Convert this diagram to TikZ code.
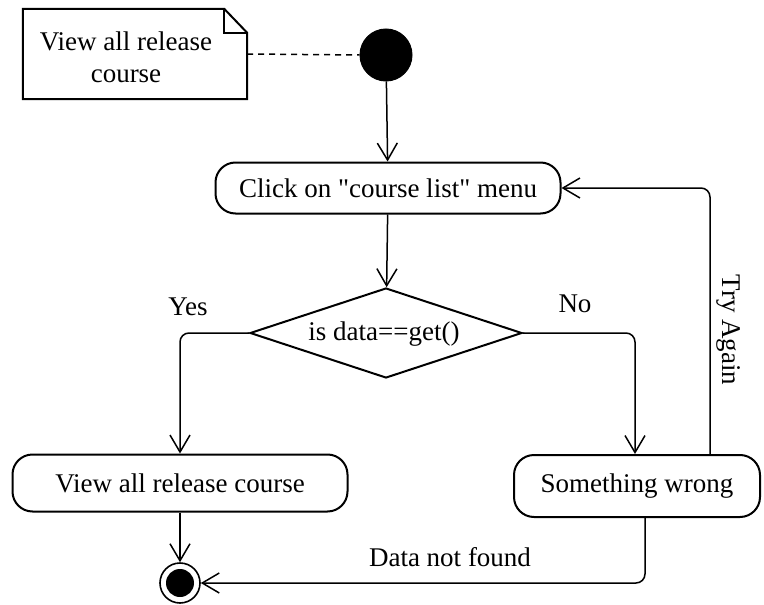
\documentclass[tikz,border=0pt]{standalone}
\usepackage{fontspec}
\newfontfamily\diagfont{Liberation Serif}
\usetikzlibrary{arrows.meta,shapes.geometric}
\begin{document}
\begin{tikzpicture}[x=1pt,y=-1pt,
  every node/.style={font=\diagfont\fontsize{27}{32}\selectfont},
  act/.style={draw,line width=2pt,rounded corners=20pt,inner sep=0pt},
  conn/.style={line width=1.5pt,rounded corners=9pt,-{Straight Barb[length=17pt,width=20pt,line width=1.5pt]}},
  lbl/.style={inner sep=0pt}]
\useasboundingbox (0,0) rectangle (764,605);
% note
\node (note) [minimum width=224pt,minimum height=90pt,inner sep=0pt] at (135,54) {};
\draw[line width=2pt] (note.north west) -- ([xshift=-23pt]note.north east) -- ([yshift=-24pt]note.north east) -- (note.south east) -- (note.south west) -- cycle;
\draw[line width=1.6pt] ([xshift=-23pt]note.north east) -- ([xshift=-23pt,yshift=-24pt]note.north east) -- ([yshift=-24pt]note.north east);
\node[lbl,align=center] (notetxt) at (126,57) {View all release\\course};
% start
\node (start) [circle,fill=black,draw,line width=1pt,minimum size=52pt,inner sep=0pt] at (386,55) {};
% activities
\node (click) [act,minimum width=345pt,minimum height=51pt] at (388,188) {Click on "course list" menu};
\node (dec) [diamond,draw,line width=2pt,aspect=3,minimum width=272pt,minimum height=90pt,inner sep=0pt] at (386,333) {};
\node[lbl] (dectxt) at (384,334) {is data==get()};
\node (view) [act,minimum width=335pt,minimum height=57pt] at (180,483) {View all release course};
\node (wrong) [act,minimum width=246pt,minimum height=62pt] at (637,486) {Something wrong};
% end
\node (end) [circle,draw,line width=1.6pt,minimum size=40pt,inner sep=0pt] at (180,583) {};
\node (endin) [circle,fill=black,minimum size=28pt,inner sep=0pt] at (180,583) {};
% labels
\node[lbl] (yes) at (188,307) {Yes};
\node[lbl] (no) at (575,304) {No};
\node[lbl,rotate=-90] (try) at (729,330) {Try Again};
\node[lbl] (dnf) at (450,557) {Data not found};
% connectors
\draw[line width=1.5pt,dash pattern=on 6pt off 5pt] (note.east) -- (start.west);
\draw[conn] (start) -- (click);
\draw[conn] (click) -- (dec);
\draw[conn] (dec.west) -| (view.north);
\draw[conn] (dec.east) -| ([xshift=-2pt]wrong.north);
\draw[conn] ([xshift=73pt]wrong.north) |- (click.east);
\draw[conn] (view) -- (end);
\draw[conn] ([xshift=8pt]wrong.south) |- (end.east);
\end{tikzpicture}
\end{document}
